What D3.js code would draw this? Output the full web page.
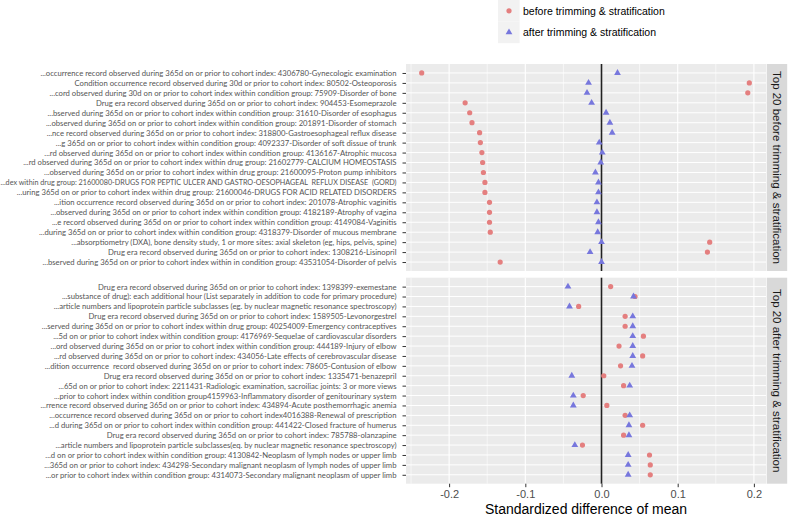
<!DOCTYPE html>
<html>
<head>
<meta charset="utf-8">
<script src="https://cdn.jsdelivr.net/npm/d3@7"></script>
<style>
  body { margin: 0; background: #fff; }
  svg { display: block; }
</style>
</head>
<body>
<svg id="chart" width="793" height="519"></svg>
<script>
// Top 20 covariates before trimming & stratification
const topLabels = [
  '...occurrence record observed during 365d on or prior to cohort index: 4306780-Gynecologic examination',
  'Condition occurrence record observed during 30d or prior to cohort index: 80502-Osteoporosis',
  '...cord observed during 30d on or prior to cohort index within condition group: 75909-Disorder of bone',
  'Drug era record observed during 365d on or prior to cohort index: 904453-Esomeprazole',
  '...bserved during 365d on or prior to cohort index within condition group: 31610-Disorder of esophagus',
  '...observed during 365d on or prior to cohort index within condition group: 201891-Disorder of stomach',
  '...nce record observed during 365d on or prior to cohort index: 318800-Gastroesophageal reflux disease',
  '...g 365d on or prior to cohort index within condition group: 4092337-Disorder of soft dissue of trunk',
  '...rd observed during 365d on or prior to cohort index within condition group: 4136167-Atrophic mucosa',
  '...rd observed during 365d on or prior to cohort index within drug group: 21602779-CALCIUM HOMEOSTASIS',
  '...observed during 365d on or prior to cohort index within drug group: 21600095-Proton pump inhibitors',
  '...dex within drug group: 21600080-DRUGS FOR PEPTIC ULCER AND GASTRO-OESOPHAGEAL  REFLUX DISEASE  (GORD)',
  '...uring 365d on or prior to cohort index within drug group: 21600046-DRUGS FOR ACID RELATED DISORDERS',
  '...ition occurrence record observed during 365d on or prior to cohort index: 201078-Atrophic vaginitis',
  '...observed during 365d on or prior to cohort index within condition group: 4182189-Atrophy of vagina',
  '...e record observed during 365d on or prior to cohort index within condition group: 4149084-Vaginitis',
  '...during 365d on or prior to cohort index within condition group: 4318379-Disorder of mucous membrane',
  '...absorptiometry (DXA), bone density study, 1 or more sites: axial skeleton (eg, hips, pelvis, spine)',
  'Drug era record observed during 365d on or prior to cohort index: 1308216-Lisinopril',
  '...bserved during 365d on or prior to cohort index within in condition group: 43531054-Disorder of pelvis'
]
const topBefore = [-0.236, 0.194, 0.192, -0.179, -0.173, -0.170, -0.160, -0.159, -0.157, -0.156,
  -0.155, -0.153, -0.153, -0.147, -0.147, -0.147, -0.146, 0.142, 0.139, -0.133]
const topAfter = [0.021, -0.017, -0.019, -0.013, 0.006, 0.011, 0.014, -0.003, 0.001, -0.001,
  -0.008, -0.004, -0.004, -0.006, -0.006, -0.004, -0.005, 0.000, -0.015, 0.000]

// Top 20 covariates after trimming & stratification
const bottomLabels = [
  'Drug era record observed during 365d on or prior to cohort index: 1398399-exemestane',
  '...substance of drug): each additional hour (List separately in addition to code for primary procedure)',
  '...article numbers and lipoprotein particle subclasses (eg. by nuclear magnetic resonance spectroscopy)',
  'Drug era record observed during 365d on or prior to cohort index: 1589505-Levonorgestrel',
  '...served during 365d on or prior to cohort index within drug group: 40254009-Emergency contraceptives',
  '...5d on or prior to cohort index within condition group: 4176969-Sequelae of cardiovascular disorders',
  '...ord observed during 365d on or prior to cohort index within condition group: 444189-Injury of elbow',
  '...rd observed during 365d on or prior to cohort index: 434056-Late effects of cerebrovascular disease',
  '...dition occurrence  record observed during 365d on or prior to cohort index: 78605-Contusion of elbow',
  'Drug era record observed during 365d on or prior to cohort index: 1335471-benazepril',
  '...65d on or prior to cohort index: 2211431-Radiologic examination, sacroiliac joints: 3 or more views',
  '...prior to cohort index within condition group4159963-Inflammatory disorder of genitourinary system',
  '...rrence record observed during 365d on or prior to cohort index: 434894-Acute posthemorrhagic anemia',
  '...occurrence record observed during 365d on or prior to cohort index4016388-Renewal of prescription',
  '...d during 365d on or prior to cohort index within condition group: 441422-Closed fracture of humerus',
  'Drug era record observed during 365d on or prior to cohort index: 785788-olanzapine',
  '...article numbers and lipoprotein particle subclasses(eq. by nuclear magnetic resonance spectroscopy)',
  '...d on or prior to cohort index within condition group: 4130842-Neoplasm of lymph nodes or upper limb',
  '...365d on or prior to cohort index: 434298-Secondary malignant neoplasm of lymph nodes of upper limb',
  '...or prior to cohort index within condition group: 4314073-Secondary malignant neoplasm of upper limb'
]
const bottomBefore = [0.012, 0.044, -0.030, 0.031, 0.031, 0.055, 0.023, 0.054, 0.025, 0.003,
  0.029, -0.024, 0.007, 0.031, 0.054, 0.029, -0.025, 0.063, 0.064, 0.064]
const bottomAfter = [-0.044, 0.042, -0.042, 0.041, 0.041, 0.041, 0.041, 0.041, 0.040, -0.039,
  0.037, -0.037, -0.037, 0.037, 0.036, 0.036, -0.035, 0.035, 0.035, 0.035]

const panelTitles = ['Top 20 before trimming & stratification', 'Top 20 after trimming & stratification']
const seriesNames = ['before trimming & stratification', 'after trimming & stratification']
const xTicks = [-0.2, -0.1, 0.0, 0.1, 0.2]
const xMinorTicks = [-0.25, -0.15, -0.05, 0.05, 0.15]

const colors = { before: '#e47f7f', after: '#7777dd' }

const svg = d3.select('#chart')

const x = d3.scaleLinear()
  .domain([-0.2566, 0.2159])
  .range([406, 766])

const panels = [
  { title: panelTitles[0], labels: topLabels, before: topBefore, after: topAfter, top: 64, bottom: 271 },
  { title: panelTitles[1], labels: bottomLabels, before: bottomBefore, after: bottomAfter, top: 277.7, bottom: 483.7 }
]

/**
 * Draws one facet: background, grid, y labels, points and strip.
 *
 * @param {object} p The panel description
 */
function drawPanel (p) {
  const g = svg.append('g')
  const y = d3.scalePoint()
    .domain(p.labels)
    .range([p.top, p.bottom])
    .padding(0.9)

  g.append('rect')
    .attr('x', x.range()[0])
    .attr('y', p.top)
    .attr('width', x.range()[1] - x.range()[0])
    .attr('height', p.bottom - p.top)
    .attr('fill', '#ebebeb')

  // minor then major vertical grid
  g.selectAll('.minor')
    .data(xMinorTicks)
    .enter()
    .append('line')
    .attr('x1', (d) => x(d))
    .attr('x2', (d) => x(d))
    .attr('y1', p.top)
    .attr('y2', p.bottom)
    .attr('stroke', '#fff')
    .attr('stroke-width', 0.6)

  g.selectAll('.major-x')
    .data(xTicks)
    .enter()
    .append('line')
    .attr('x1', (d) => x(d))
    .attr('x2', (d) => x(d))
    .attr('y1', p.top)
    .attr('y2', p.bottom)
    .attr('stroke', '#fff')
    .attr('stroke-width', 1.1)

  g.selectAll('.major-y')
    .data(p.labels)
    .enter()
    .append('line')
    .attr('x1', x.range()[0])
    .attr('x2', x.range()[1])
    .attr('y1', (d) => y(d))
    .attr('y2', (d) => y(d))
    .attr('stroke', '#fff')
    .attr('stroke-width', 1)

  // zero reference line
  g.append('line')
    .attr('x1', x(0))
    .attr('x2', x(0))
    .attr('y1', p.top)
    .attr('y2', p.bottom)
    .attr('stroke', '#222')
    .attr('stroke-width', 1.6)

  // y axis, long labels squeezed so they stay on the page
  const yAxis = g.append('g')
    .attr('transform', 'translate(' + x.range()[0] + ',0)')
    .call(d3.axisLeft(y).tickSize(3.5).tickPadding(6))
  yAxis.select('.domain').remove()
  yAxis.selectAll('line').attr('stroke', '#333')
  yAxis.selectAll('text')
    .attr('fill', '#555')
    .style('font-family', 'Lato, sans-serif')
    .style('font-size', '7.7px')
    .style('white-space', 'pre')
    .each(function () {
      const maxWidth = 396
      if (this.getComputedTextLength() > maxWidth) {
        d3.select(this)
          .attr('textLength', maxWidth)
          .attr('lengthAdjust', 'spacingAndGlyphs')
      }
    })

  // points
  g.selectAll('.before')
    .data(p.labels)
    .enter()
    .append('circle')
    .attr('cx', (d, i) => x(p.before[i]))
    .attr('cy', (d) => y(d))
    .attr('r', 2.6)
    .attr('fill', colors.before)

  g.selectAll('.after')
    .data(p.labels)
    .enter()
    .append('path')
    .attr('d', d3.symbol(d3.symbolTriangle, 20))
    .attr('transform', (d, i) => 'translate(' + x(p.after[i]) + ',' + y(d) + ')')
    .attr('fill', colors.after)

  // strip on the right
  g.append('rect')
    .attr('x', 766.7)
    .attr('y', p.top)
    .attr('width', 20.5)
    .attr('height', p.bottom - p.top)
    .attr('fill', '#d9d9d9')

  g.append('text')
    .attr('transform', 'translate(' + 773 + ',' + (p.top + p.bottom) / 2 + ') rotate(90)')
    .attr('text-anchor', 'middle')
    .attr('fill', '#1a1a1a')
    .style('font-family', 'Liberation Sans, Arial, sans-serif')
    .style('font-size', '11.5px')
    .text(p.title)
}

panels.forEach(drawPanel)

// x axis under the bottom panel
const xAxis = svg.append('g')
  .attr('transform', 'translate(0,' + panels[1].bottom + ')')
  .call(d3.axisBottom(x).tickValues(xTicks).tickSize(3.5).tickPadding(3)
    .tickFormat((d) => d.toFixed(1)))
xAxis.select('.domain').remove()
xAxis.selectAll('line').attr('stroke', '#333')
xAxis.selectAll('text')
  .attr('fill', '#4d4d4d')
  .style('font-family', 'Liberation Sans, Arial, sans-serif')
  .style('font-size', '11px')

svg.append('text')
  .attr('x', (x.range()[0] + x.range()[1]) / 2)
  .attr('y', 514)
  .attr('text-anchor', 'middle')
  .attr('fill', '#000')
  .style('font-family', 'Liberation Sans, Arial, sans-serif')
  .style('font-size', '14px')
  .text('Standardized difference of mean')

// legend at the top
const legend = svg.append('g')
legend.selectAll('rect')
  .data(seriesNames)
  .enter()
  .append('rect')
  .attr('x', 498)
  .attr('y', (d, i) => i * 21.6)
  .attr('width', 21.6)
  .attr('height', 21.6)
  .attr('fill', '#f2f2f2')

legend.append('circle')
  .attr('cx', 509)
  .attr('cy', 10.8)
  .attr('r', 2.6)
  .attr('fill', colors.before)

legend.append('path')
  .attr('d', d3.symbol(d3.symbolTriangle, 20))
  .attr('transform', 'translate(509,32.4)')
  .attr('fill', colors.after)

legend.selectAll('text')
  .data(seriesNames)
  .enter()
  .append('text')
  .attr('x', 523)
  .attr('y', (d, i) => i * 21.6 + 14.5)
  .attr('fill', '#000')
  .style('font-family', 'Liberation Sans, Arial, sans-serif')
  .style('font-size', '10.5px')
  .text((d) => d)
</script>
</body>
</html>
